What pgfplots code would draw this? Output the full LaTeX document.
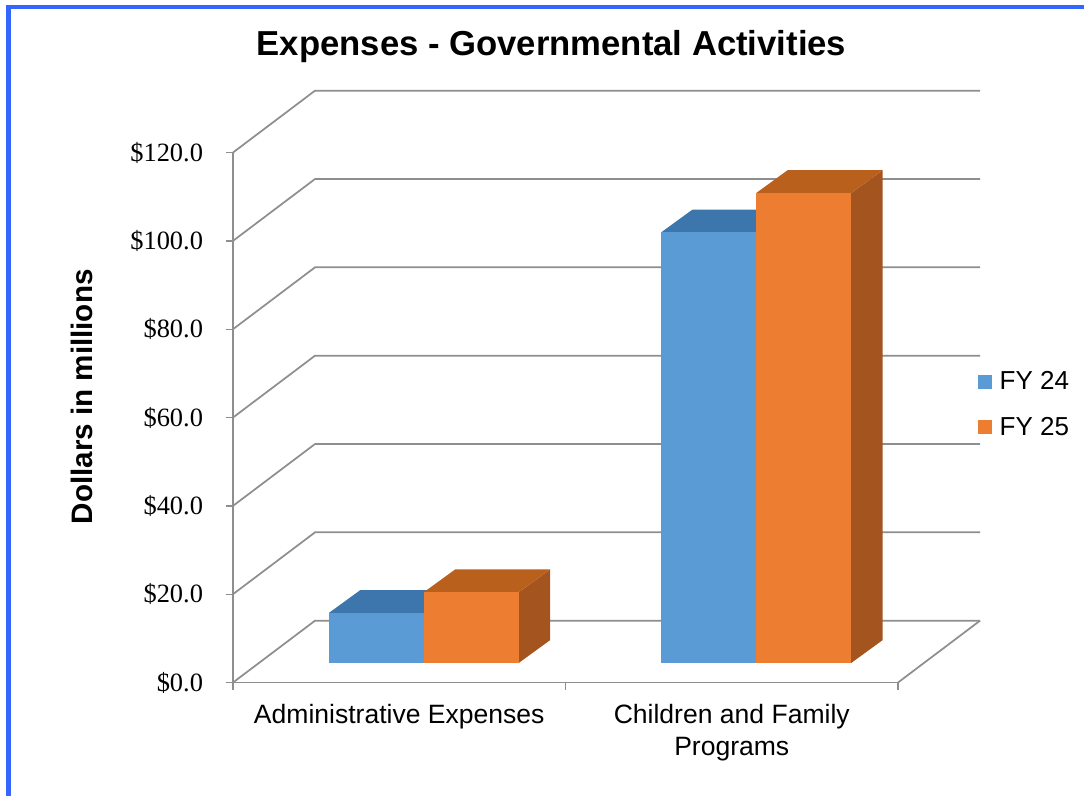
\documentclass[border=0pt]{standalone}
\usepackage{fontspec}
\setmainfont{Liberation Sans}
\newfontfamily\tickserif{Liberation Serif}
\usepackage{pgfplots}
\pgfplotsset{compat=1.18}

\definecolor{frameblue}{HTML}{3366FF}
\definecolor{wallgray}{HTML}{8E8E8E}
\definecolor{blueFront}{HTML}{5B9BD5}
\definecolor{blueTop}{HTML}{3D76AD}
\definecolor{blueSide}{HTML}{33618C}
\definecolor{orangeFront}{HTML}{ED7D31}
\definecolor{orangeTop}{HTML}{B9601C}
\definecolor{orangeSide}{HTML}{A4551F}

% Oblique projection in data units: wall depth, bar inset from the front edge, bar depth.
\newcommand{\wallDx}{0.2466}
\newcommand{\wallDy}{14}
\newcommand{\barInX}{0.073}
\newcommand{\barInY}{4.4}
\newcommand{\barDx}{0.095}
\newcommand{\barDy}{5.2}
\newcommand{\barW}{0.2857}

% Gridline running along the left wall and the back wall.
\newcommand{\wallLine}[1]{%
  \pgfmathsetmacro{\wy}{#1+\wallDy}%
  \addplot[wallgray, line width=1.3pt, forget plot] coordinates {(0,#1) (\wallDx,\wy) (2+\wallDx,\wy)};%
}

% One extruded bar: #1 left edge on the category scale, #2 value, #3 colour prefix.
\newcommand{\depthBar}[3]{%
  \pgfmathsetmacro{\xa}{#1+\barInX}%
  \pgfmathsetmacro{\xb}{\xa+\barW}%
  \pgfmathsetmacro{\xc}{\xa+\barDx}%
  \pgfmathsetmacro{\xd}{\xb+\barDx}%
  \pgfmathsetmacro{\ya}{\barInY}%
  \pgfmathsetmacro{\yb}{\barInY+#2}%
  \pgfmathsetmacro{\yc}{\ya+\barDy}%
  \pgfmathsetmacro{\yd}{\yb+\barDy}%
  \addplot[fill=#3Side, draw=none, forget plot] coordinates {(\xb,\ya) (\xd,\yc) (\xd,\yd) (\xb,\yb)} -- cycle;%
  \addplot[fill=#3Top, draw=none, forget plot] coordinates {(\xa,\yb) (\xc,\yd) (\xd,\yd) (\xb,\yb)} -- cycle;%
  \addplot[fill=#3Front, draw=none, forget plot] coordinates {(\xa,\ya) (\xb,\ya) (\xb,\yb) (\xa,\yb)} -- cycle;%
}

\begin{document}
\begin{tikzpicture}
\useasboundingbox (0,0) rectangle (813pt,597pt);
\fill[frameblue] (4.2pt,0) rectangle (8pt,593pt);
\fill[frameblue] (4.2pt,593pt) rectangle (813pt,590pt);
\begin{axis}[
  at={(174.75pt,85.1pt)}, anchor=south west,
  scale only axis, width=498.75pt, height=397.5pt,
  xmin=0, xmax=2, ymin=0, ymax=120,
  clip=false,
  axis x line=bottom, axis y line=left,
  axis line style={wallgray, line width=1.3pt, -},
  tick style={wallgray, line width=1pt},
  tick align=outside, major tick length=5.25pt,
  xtick={0,1,2}, xticklabels={},
  extra x ticks={0.5,1.5},
  extra x tick labels={Administrative Expenses,{Children and Family\\Programs}},
  extra x tick style={major tick length=0pt,
    tick label style={font=\fontsize{19.9}{24.4}\selectfont, align=center, yshift=-12.6pt, anchor=north}},
  ytick={0,20,40,60,80,100,120},
  yticklabels={\$0.0,\$20.0,\$40.0,\$60.0,\$80.0,\$100.0,\$120.0},
  y tick label style={font=\tickserif\fontsize{19.8}{22}\selectfont, xshift=-13.75pt},
  title={Expenses - Governmental Activities},
  title style={font=\bfseries\fontsize{26}{28}\selectfont, at={(0.479,1.184)}, anchor=center},
  ylabel={Dollars in millions},
  y label style={font=\bfseries\fontsize{22.2}{24}\selectfont, at={(-0.227,0.539)}, anchor=center},
  legend style={draw=none, fill=none, at={(1.1195,0.5245)}, anchor=west, inner sep=0pt,
    font=\fontsize{19.5}{22}\selectfont, row sep=15pt, legend cell align=left,
    /tikz/every even column/.append style={column sep=0pt}},
  legend image code/.code={\fill[#1, draw=none] (0pt,-5.25pt) rectangle (10.5pt,5.25pt); \path (14.25pt,0pt);},
]
% Walls and floor
\wallLine{0}\wallLine{20}\wallLine{40}\wallLine{60}\wallLine{80}\wallLine{100}\wallLine{120}
\addplot[wallgray, line width=1.3pt, forget plot] coordinates {(2,0) (2+\wallDx,\wallDy)};

% Administrative Expenses, FY 24 and FY 25
\depthBar{0.2143}{11.3}{blue}
\depthBar{0.5}{16.0}{orange}
% Children and Family Programs, FY 24 and FY 25
\depthBar{1.2143}{97.5}{blue}
\depthBar{1.5}{106.4}{orange}

\addlegendimage{fill=blueFront}
\addlegendentry{FY 24}
\addlegendimage{fill=orangeFront}
\addlegendentry{FY 25}
\end{axis}
\end{tikzpicture}
\end{document}
